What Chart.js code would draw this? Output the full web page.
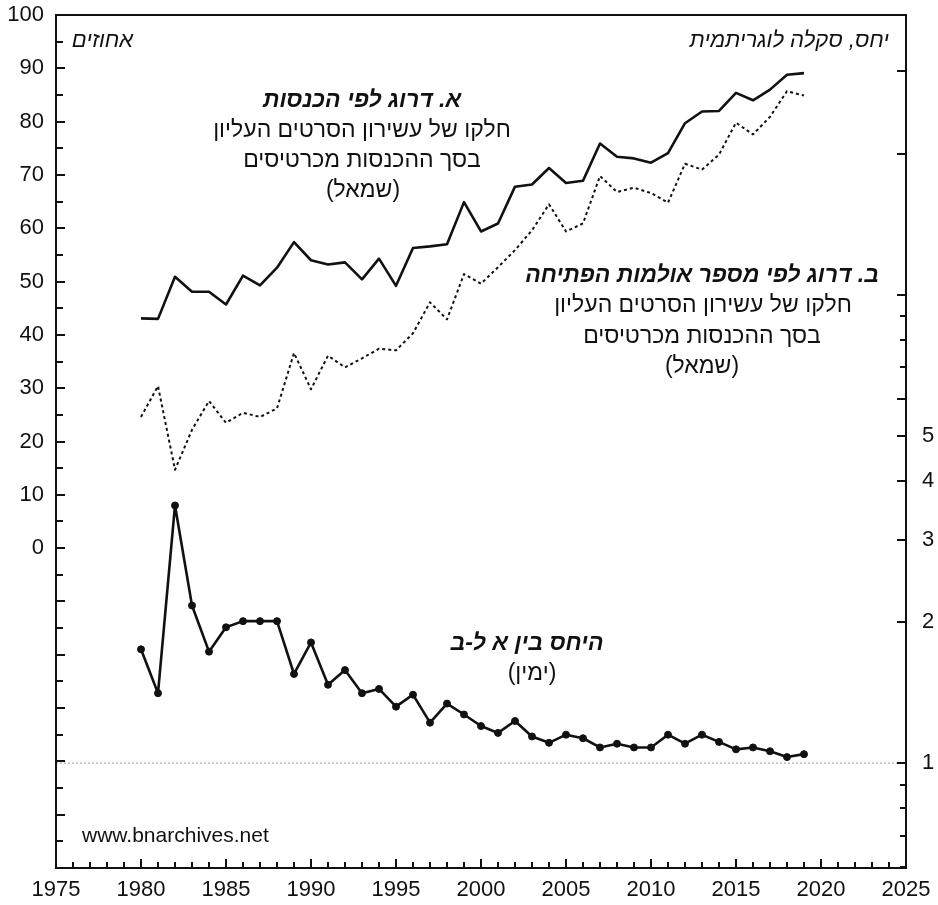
<!DOCTYPE html>
<html lang="he">
<head>
<meta charset="utf-8">
<title>ריכוזיות בקופות</title>
<script src="https://cdn.jsdelivr.net/npm/chart.js@4.4.1/dist/chart.umd.min.js"></script>
<style>
    html, body { margin: 0; padding: 0; background: #fff; }
    #wrap { width: 938px; height: 905px; }
</style>
</head>
<body>
<div id="wrap"><canvas id="concChart" width="938" height="905"></canvas></div>
<script>
// שנים
const years = [1980, 1981, 1982, 1983, 1984, 1985, 1986, 1987, 1988, 1989,
               1990, 1991, 1992, 1993, 1994, 1995, 1996, 1997, 1998, 1999,
               2000, 2001, 2002, 2003, 2004, 2005, 2006, 2007, 2008, 2009,
               2010, 2011, 2012, 2013, 2014, 2015, 2016, 2017, 2018, 2019];

// א. דרוג לפי הכנסות (אחוזים, שמאל)
const shareByRevenue = [43.1, 43.0, 50.9, 48.1, 48.1, 45.7, 51.1, 49.3, 52.6, 57.4,
                        54.0, 53.2, 53.6, 50.4, 54.3, 49.2, 56.3, 56.6, 57.0, 64.9,
                        59.4, 60.9, 67.8, 68.2, 71.3, 68.5, 68.9, 75.9, 73.4, 73.1,
                        72.3, 74.1, 79.7, 81.9, 82.0, 85.4, 84.0, 86.0, 88.8, 89.1];

// ב. דרוג לפי מספר אולמות הפתיחה (אחוזים, שמאל)
const shareByScreens = [24.6, 30.4, 14.7, 22.2, 27.6, 23.5, 25.4, 24.6, 26.2, 36.6,
                        29.8, 36.1, 33.9, 35.6, 37.4, 37.1, 40.3, 46.1, 42.9, 51.4,
                        49.6, 52.7, 55.9, 59.6, 64.5, 59.4, 60.9, 69.8, 66.8, 67.6,
                        66.6, 64.8, 72.1, 71.0, 73.8, 79.8, 77.6, 80.9, 85.7, 84.9];

// היחס בין א ל-ב (ימין, לוגריתמי)
const ratioAB = [1.75, 1.41, 3.55, 2.17, 1.73, 1.95, 2.01, 2.01, 2.01, 1.55,
                 1.81, 1.47, 1.58, 1.41, 1.44, 1.32, 1.40, 1.22, 1.34, 1.27,
                 1.20, 1.16, 1.23, 1.14, 1.105, 1.15, 1.13, 1.08, 1.10, 1.08,
                 1.08, 1.15, 1.10, 1.15, 1.11, 1.07, 1.08, 1.06, 1.03, 1.045];

// קו ייחוס ב-1
const refYears = [1975, 2025];
const refValues = [1, 1];

// תוויות צירים
const leftLabels = [0, 10, 20, 30, 40, 50, 60, 70, 80, 90, 100];
const rightTicks = [0.6, 0.7, 0.8, 0.9, 1, 2, 3, 4, 5, 6, 7, 8, 9, 10, 20, 30];
const rightLabels = [1, 2, 3, 4, 5];
const rightLongTicks = [1, 2, 3, 4, 5, 6, 10, 20, 30];

const FONT = '"Liberation Sans", Arial, sans-serif';
const INK = '#111';

function toPoints(xs, ys) {
    return xs.map(function(x, i) { return { x: x, y: ys[i] }; });
}

// רוחב/גובה קבועים לצירים, בלי ריפוד לתוויות הקצה
function fixSize(w, h) {
    return function(s) {
        if (w !== null) { s.width = w; }
        if (h !== null) { s.height = h; }
        s.paddingTop = 0;
        s.paddingBottom = 0;
        s.paddingLeft = 0;
        s.paddingRight = 0;
    };
}

// מסגרת ושנתות פנימיות
const frameTicks = {
    id: 'frameTicks',
    afterDraw: function(chart) {
        const ctx = chart.ctx;
        const a = chart.chartArea;
        const sx = chart.scales.x;
        const yl = chart.scales.yLeft;
        const yr = chart.scales.yRight;

        ctx.save();
        ctx.strokeStyle = INK;
        ctx.lineWidth = 2;
        ctx.beginPath();

        sx.ticks.forEach(function(t) {
            const px = Math.round(sx.getPixelForValue(t.value));
            const len = (t.value % 5 === 0) ? 9 : 6;
            ctx.moveTo(px, a.bottom);
            ctx.lineTo(px, a.bottom - len);
        });

        yl.ticks.forEach(function(t) {
            const py = Math.round(yl.getPixelForValue(t.value));
            const len = (t.value % 10 === 0) ? 9 : 7;
            ctx.moveTo(a.left, py);
            ctx.lineTo(a.left + len, py);
        });

        yr.ticks.forEach(function(t) {
            const py = Math.round(yr.getPixelForValue(t.value));
            const len = rightLongTicks.indexOf(t.value) >= 0 ? 9 : 6;
            ctx.moveTo(a.right, py);
            ctx.lineTo(a.right - len, py);
        });
        ctx.stroke();

        ctx.strokeRect(a.left, a.top, a.right - a.left, a.bottom - a.top);
        ctx.restore();
    }
};

// טקסטים על גבי הגרף
const notes = {
    id: 'notes',
    afterDraw: function(chart) {
        const ctx = chart.ctx;
        ctx.save();
        ctx.fillStyle = INK;
        ctx.textBaseline = 'middle';
        ctx.direction = 'rtl';

        function txt(s, x, y, font, align) {
            ctx.font = font;
            ctx.textAlign = align || 'center';
            ctx.fillText(s, x, y);
        }

        const reg = '23px ' + FONT;
        const bold = 'italic bold 23px ' + FONT;
        const ital = 'italic 22px ' + FONT;

        txt('אחוזים', 133, 41, ital, 'right');
        txt('יחס, סקלה לוגריתמית', 889, 41, ital, 'right');

        txt('א. דרוג לפי הכנסות', 362, 101, bold);
        txt('חלקו של עשירון הסרטים העליון', 362, 131, reg);
        txt('בסך ההכנסות מכרטיסים', 362, 161, reg);
        txt('(שמאל)', 363, 191, reg);

        txt('ב. דרוג לפי מספר אולמות הפתיחה', 702, 276, bold);
        txt('חלקו של עשירון הסרטים העליון', 703, 306, reg);
        txt('בסך ההכנסות מכרטיסים', 702, 337, reg);
        txt('(שמאל)', 702, 367, reg);

        txt('היחס בין א ל-ב', 527, 644, bold);
        txt('(ימין)', 532, 674, reg);

        ctx.direction = 'ltr';
        txt('www.bnarchives.net', 82, 836, '21px ' + FONT, 'left');
        ctx.restore();
    }
};

const ctx = document.getElementById('concChart').getContext('2d');

new Chart(ctx, {
    type: 'line',
    data: {
        datasets: [{
            label: 'ref',
            data: toPoints(refYears, refValues),
            yAxisID: 'yRight',
            borderColor: '#9a9a9a',
            borderWidth: 1,
            borderDash: [2, 2],
            pointRadius: 0,
            fill: false
        }, {
            label: 'ב',
            data: toPoints(years, shareByScreens),
            yAxisID: 'yLeft',
            borderColor: INK,
            borderWidth: 2,
            borderDash: [3, 3],
            borderJoinStyle: 'round',
            pointRadius: 0,
            tension: 0,
            fill: false
        }, {
            label: 'א',
            data: toPoints(years, shareByRevenue),
            yAxisID: 'yLeft',
            borderColor: INK,
            borderWidth: 2.6,
            borderJoinStyle: 'round',
            pointRadius: 0,
            tension: 0,
            fill: false
        }, {
            label: 'יחס',
            data: toPoints(years, ratioAB),
            yAxisID: 'yRight',
            borderColor: INK,
            borderWidth: 2.6,
            borderJoinStyle: 'round',
            pointRadius: 3.5,
            pointBackgroundColor: INK,
            pointBorderColor: INK,
            pointBorderWidth: 1,
            tension: 0,
            fill: false
        }]
    },
    options: {
        responsive: false,
        animation: false,
        layout: { padding: { top: 15, left: 0, right: 0, bottom: 0 } },
        plugins: {
            legend: { display: false },
            tooltip: { enabled: false }
        },
        scales: {
            x: {
                type: 'linear',
                min: 1975,
                max: 2025,
                grid: { display: false, drawTicks: false },
                border: { display: false },
                ticks: {
                    stepSize: 1,
                    autoSkip: false,
                    maxRotation: 0,
                    padding: 9,
                    color: INK,
                    font: { family: FONT, size: 22 },
                    callback: function(v) { return v % 5 === 0 ? String(v) : ''; }
                },
                afterFit: fixSize(null, 37)
            },
            yLeft: {
                type: 'linear',
                position: 'left',
                min: -60,
                max: 100,
                grid: { display: false, drawTicks: false },
                border: { display: false },
                ticks: {
                    stepSize: 5,
                    autoSkip: false,
                    padding: 12,
                    color: INK,
                    font: { family: FONT, size: 22 },
                    callback: function(v) { return leftLabels.indexOf(v) >= 0 ? String(v) : ''; }
                },
                afterFit: fixSize(56, null)
            },
            yRight: {
                type: 'logarithmic',
                position: 'right',
                min: 0.597,
                max: 39.6,
                grid: { display: false, drawTicks: false },
                border: { display: false },
                afterBuildTicks: function(s) {
                    s.ticks = rightTicks.map(function(v) { return { value: v }; });
                },
                ticks: {
                    autoSkip: false,
                    padding: 16,
                    color: INK,
                    font: { family: FONT, size: 22 },
                    callback: function(v) { return rightLabels.indexOf(v) >= 0 ? String(v) : ''; }
                },
                afterFit: fixSize(32, null)
            }
        }
    },
    plugins: [frameTicks, notes]
});
</script>
</body>
</html>
